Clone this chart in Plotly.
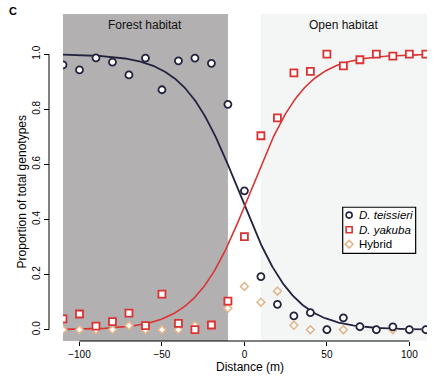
import numpy as np
import plotly.graph_objects as go

# ---- data ----
distance = [-110, -100, -90, -80, -70, -60, -50, -40, -30, -20, -10,
            0, 10, 20, 30, 40, 50, 60, 70, 80, 90, 100, 110]
teissieri = [0.961, 0.943, 0.987, 0.971, 0.925, 0.986, 0.871, 0.976, 0.986, 0.967, 0.818,
             0.504, 0.193, 0.092, 0.050, 0.062, 0.000, 0.043, 0.011, 0.000, 0.010, 0.000, 0.000]
yakuba = [0.039, 0.057, 0.013, 0.029, 0.060, 0.015, 0.129, 0.023, 0.000, 0.017, 0.104,
          0.338, 0.704, 0.769, 0.932, 0.938, 1.000, 0.958, 0.980, 1.000, 0.993, 1.000, 1.000]
hybrid = [0.000, 0.000, 0.000, 0.000, 0.015, 0.000, 0.000, 0.000, 0.015, 0.017, 0.078,
          0.157, 0.100, 0.140, 0.016, 0.000, 0.000, 0.000, 0.011, 0.000, 0.000, 0.000, 0.000]

# fitted cline parameters (logistic): centre, slope
teis_center, teis_slope = -3.3, 0.060
yak_center, yak_slope = 3.5, 0.060

x_ticks = [-100, -50, 0, 50, 100]
y_ticks = [0.0, 0.2, 0.4, 0.6, 0.8, 1.0]

forest_x = (-110, -10)
open_x = (10, 110.7)

NAVY = "#23233f"
RED = "#d93333"
TAN = "#e2b68c"
FONT = "Liberation Sans, Arial, sans-serif"

xfit = np.linspace(-110, 110, 300)
teis_fit = 1.0 / (1.0 + np.exp(teis_slope * (xfit - teis_center)))
yak_fit = 1.0 / (1.0 + np.exp(-yak_slope * (xfit - yak_center)))

fig = go.Figure()

fig.add_trace(go.Scatter(x=xfit, y=teis_fit, mode="lines",
                         line=dict(color=NAVY, width=1.8), showlegend=False, hoverinfo="skip"))
fig.add_trace(go.Scatter(x=xfit, y=yak_fit, mode="lines",
                         line=dict(color=RED, width=1.6), showlegend=False, hoverinfo="skip"))

fig.add_trace(go.Scatter(x=distance, y=hybrid, mode="markers", name="Hybrid",
                         marker=dict(symbol="diamond", size=6, color="white",
                                     line=dict(color=TAN, width=1.6)), showlegend=False))
fig.add_trace(go.Scatter(x=distance, y=yakuba, mode="markers", name="D. yakuba",
                         marker=dict(symbol="square", size=7, color="white",
                                     line=dict(color=RED, width=1.8)), showlegend=False))
fig.add_trace(go.Scatter(x=distance, y=teissieri, mode="markers", name="D. teissieri",
                         marker=dict(symbol="circle", size=7, color="white",
                                     line=dict(color=NAVY, width=1.8)), showlegend=False))

# ---- manual legend (keys on an overlay paper-like axis) ----
leg_names = ["<i>D. teissieri</i>", "<i>D. yakuba</i>", "Hybrid"]
leg_symbols = ["circle", "square", "diamond"]
leg_colors = [NAVY, RED, TAN]
leg_y = [0.385, 0.340, 0.296]
leg_key_x = 0.794
leg_text_x = 0.814

for sym, col, yy in zip(leg_symbols, leg_colors, leg_y):
    fig.add_trace(go.Scatter(x=[leg_key_x], y=[yy], mode="markers", xaxis="x2", yaxis="y2",
                             marker=dict(symbol=sym, size=6, color="white",
                                         line=dict(color=col, width=1.6)),
                             showlegend=False, hoverinfo="skip"))

shapes = [
    dict(type="rect", xref="x", yref="paper", x0=forest_x[0], x1=forest_x[1], y0=0, y1=1,
         fillcolor="#b2b0b1", line=dict(width=0), layer="below"),
    dict(type="rect", xref="x", yref="paper", x0=open_x[0], x1=open_x[1], y0=0, y1=1,
         fillcolor="#f4f6f5", line=dict(width=0), layer="below"),
    # legend box
    dict(type="rect", xref="paper", yref="paper", x0=0.777, x1=0.970, y0=0.268, y1=0.409,
         fillcolor="white", line=dict(color="black", width=1.2), layer="below"),
    # axis lines (R style, spanning tick range)
    dict(type="line", xref="paper", yref="y", x0=0, x1=0, y0=y_ticks[0], y1=y_ticks[-1],
         line=dict(color="black", width=1)),
    dict(type="line", xref="x", yref="paper", x0=x_ticks[0], x1=x_ticks[-1], y0=0, y1=0,
         line=dict(color="black", width=1)),
]

annotations = [
    dict(text="Forest habitat", x=-60, y=0.966, xref="x", yref="paper", showarrow=False,
         font=dict(size=12, color="#111", family=FONT), xanchor="center", yanchor="middle"),
    dict(text="Open habitat", x=60, y=0.966, xref="x", yref="paper", showarrow=False,
         font=dict(size=12, color="#111", family=FONT), xanchor="center", yanchor="middle"),
    dict(text="<b>C</b>", x=-0.111, y=1.009, xref="paper", yref="paper", showarrow=False,
         xanchor="left", yanchor="middle",
         font=dict(size=11, color="black", family=FONT)),
    dict(text="Distance (m)", x=3.5, y=-0.079, xref="x", yref="paper", showarrow=False,
         xanchor="center", yanchor="middle",
         font=dict(size=12, color="black", family=FONT)),
    dict(text="Proportion of total genotypes", x=-0.0728, y=0.5, xref="paper", yref="y",
         showarrow=False, textangle=-90, xanchor="center", yanchor="middle",
         font=dict(size=12, color="black", family=FONT)),
]
for name, yy in zip(leg_names, leg_y):
    annotations.append(dict(text=name, x=leg_text_x, y=yy, xref="paper", yref="paper",
                            showarrow=False, xanchor="left", yanchor="middle",
                            font=dict(size=11.5, color="black", family=FONT)))

fig.update_layout(
    width=442, height=384,
    margin=dict(l=49, r=15, t=14, b=43),
    paper_bgcolor="white", plot_bgcolor="rgba(0,0,0,0)",
    font=dict(family=FONT, size=10, color="black"),
    showlegend=False,
    xaxis=dict(domain=[0.037, 1], range=[-110, 110.7], tickvals=x_ticks,
               ticks="outside", ticklen=4, tickcolor="black", tickwidth=1,
               showgrid=False, zeroline=False, showline=False, automargin=False,
               tickfont=dict(size=10)),
    yaxis=dict(anchor="free", position=0, range=[-0.041, 1.146], tickvals=y_ticks,
               tickformat=".1f", tickangle=-90, automargin=False,
               ticks="outside", ticklen=5, tickcolor="black", tickwidth=1,
               showgrid=False, zeroline=False, showline=False,
               tickfont=dict(size=10)),
    xaxis2=dict(domain=[0, 1], range=[0, 1], visible=False, anchor="y2"),
    yaxis2=dict(domain=[0, 1], range=[0, 1], visible=False, anchor="x2"),
    shapes=shapes,
    annotations=annotations,
)

fig.write_html("out.html", config={"displayModeBar": False},
               post_script="document.body.style.margin='0';")
